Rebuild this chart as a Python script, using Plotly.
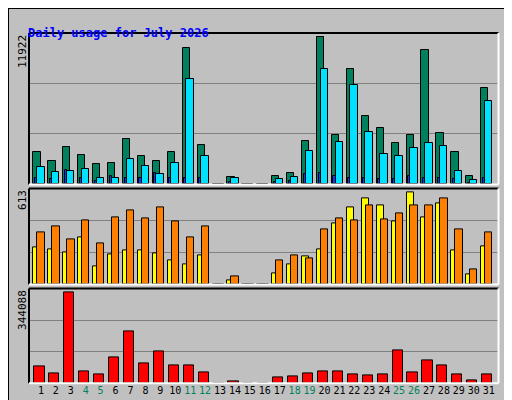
import plotly.graph_objects as go

days = list(range(1, 32))
hits = [2542, 1832, 2937, 2305, 1595, 1674, 3569, 2226, 1832, 2542, 10753, 3095, 0, 568, 0, 0,
        647, 884, 3411, 11622, 3884, 9095, 5384, 4437, 3253, 3884, 10595, 4042, 2542, 647, 7595]
files = [1358, 963, 1042, 1200, 490, 490, 1990, 1437, 805, 1674, 8305, 2226, 0, 490, 0, 0,
         411, 568, 2621, 9095, 3332, 7832, 4121, 2368, 2226, 2858, 3253, 3000, 1042, 332, 6568]
pages = [470, 400, 1100, 470, 300, 630, 470, 470, 870, 470, 470, 470, 0, 160, 0, 0,
         160, 240, 790, 870, 630, 470, 470, 400, 400, 630, 470, 470, 400, 80, 470]
visits = [236, 223, 204, 300, 115, 192, 217, 217, 198, 153, 128, 185, 0, 26, 0, 0,
          70, 128, 179, 223, 389, 492, 549, 504, 402, 587, 428, 517, 217, 64, 243]
sites = [332, 370, 287, 409, 262, 428, 472, 421, 492, 402, 300, 370, 0, 51, 0, 0,
         153, 185, 166, 351, 421, 409, 504, 415, 453, 504, 504, 549, 351, 96, 332]
kbytes = [62764, 33796, 330718, 41038, 30175, 95353, 189499, 73627, 117079, 66385, 66385, 37417,
          0, 4828, 0, 0, 19312, 22933, 33796, 44659, 41038, 30175, 26554, 30175, 120700, 37417,
          84490, 66385, 30175, 8449, 30175]
weekend = [4, 5, 11, 12, 18, 19, 25, 26]
max_hits, max_sites, max_kb = 11922, 613, 344088

GRAY = "#C0C0C0"
line = dict(color="black", width=1)
fig = go.Figure()

def bar(y, color, off, w, ax):
    fig.add_trace(go.Bar(x=days, y=y, offset=off, width=w, marker=dict(color=color, line=line),
                         xaxis="x", yaxis=ax, showlegend=False))

bar(hits, "#00805C", -0.5, 0.48, "y")
bar(files, "#00E0FF", -0.26, 0.5, "y")
bar(pages, "#0040FF", -0.4, 0.14, "y")
bar(visits, "#FFFF00", -0.5, 0.48, "y2")
bar(sites, "#FF8000", -0.24, 0.49, "y2")
bar(kbytes, "#FF0000", -0.44, 0.68, "y3")

ticktext = [f"<span style='color:#00805C'>{d}</span>" if d in weekend else str(d) for d in days]
yax = dict(showticklabels=False, showgrid=True, gridcolor="#808080", gridwidth=1,
           zeroline=False, showline=False, ticks="")
fig.update_layout(
    width=512, height=400, margin=dict(l=0, r=0, t=0, b=0),
    paper_bgcolor=GRAY, plot_bgcolor=GRAY, barmode="overlay", bargap=0,
    font=dict(family="DejaVu Sans Mono", size=11, color="black"),
    xaxis=dict(domain=[21 / 512, 490.5 / 512], range=[0.2, 31.66], tickvals=days, ticktext=ticktext,
               tickangle=0, showgrid=False, zeroline=False, ticks="", anchor="y3",
               tickfont=dict(size=10), automargin=False),
    yaxis=dict(domain=[0.559, 0.9375], range=[0, max_hits], dtick=max_hits / 3, **yax),
    yaxis2=dict(domain=[0.309, 0.549], range=[0, max_sites], dtick=max_sites / 3, **yax),
    yaxis3=dict(domain=[0.062, 0.299], range=[0, max_kb], dtick=max_kb / 3, **yax),
)

# frame and panel borders
shapes = [
    dict(type="line", xref="paper", yref="paper", x0=0, x1=1, y0=1, y1=1, line=dict(color="black", width=2)),
    dict(type="line", xref="paper", yref="paper", x0=0, x1=0, y0=0, y1=1, line=dict(color="black", width=2)),
    dict(type="line", xref="paper", yref="paper", x0=0.992, x1=0.992, y0=0, y1=0.99, line=dict(color="#808080", width=5)),
    dict(type="line", xref="paper", yref="paper", x0=0, x1=1, y0=0.006, y1=0.006, line=dict(color="#808080", width=5)),
]
x0, x1 = 21 / 512, 490.5 / 512
for b, t in [(0.559, 0.9375), (0.309, 0.549), (0.062, 0.299)]:
    shapes += [
        dict(type="line", xref="paper", yref="paper", x0=x0, x1=x1, y0=t, y1=t, line=dict(color="black", width=2)),
        dict(type="line", xref="paper", yref="paper", x0=x0, x1=x0, y0=b, y1=t, line=dict(color="black", width=2)),
        dict(type="line", xref="paper", yref="paper", x0=x0, x1=x1, y0=b, y1=b, line=dict(color="white", width=2)),
        dict(type="line", xref="paper", yref="paper", x0=x1, x1=x1, y0=b, y1=t, line=dict(color="white", width=2)),
    ]
fig.update_layout(shapes=shapes)

ann = [
    dict(text="<b>Daily usage for July 2026</b>", x=18 / 512, y=1 - 16 / 400, xanchor="left",
         font=dict(color="#0000FF", size=12)),
    dict(text=str(max_hits), x=6 / 512, y=0.9375, yanchor="top", textangle=-90),
    dict(text=str(max_sites), x=6 / 512, y=0.549, yanchor="top", textangle=-90),
    dict(text=str(max_kb), x=6 / 512, y=0.299, yanchor="top", textangle=-90),
    dict(text="<span style='color:#00E0FF'>Pages</span> / <span style='color:#0040FF'>Files</span> / "
              "<span style='color:#00805C'>Hits</span>", x=493 / 512, y=0.9375, yanchor="top", textangle=-90),
    dict(text="<span style='color:#FF8000'>Sites</span> / <span style='color:#FFFF00'>Visits</span>",
         x=493 / 512, y=0.549, yanchor="top", textangle=-90),
    dict(text="<span style='color:#FF0000'>KBytes</span>", x=493 / 512, y=0.299, yanchor="top", textangle=-90),
]
for a in ann:
    a.update(xref="paper", yref="paper", showarrow=False)
    a.setdefault("xanchor", "left")
fig.update_layout(annotations=ann)

fig.write_html("out.html")
